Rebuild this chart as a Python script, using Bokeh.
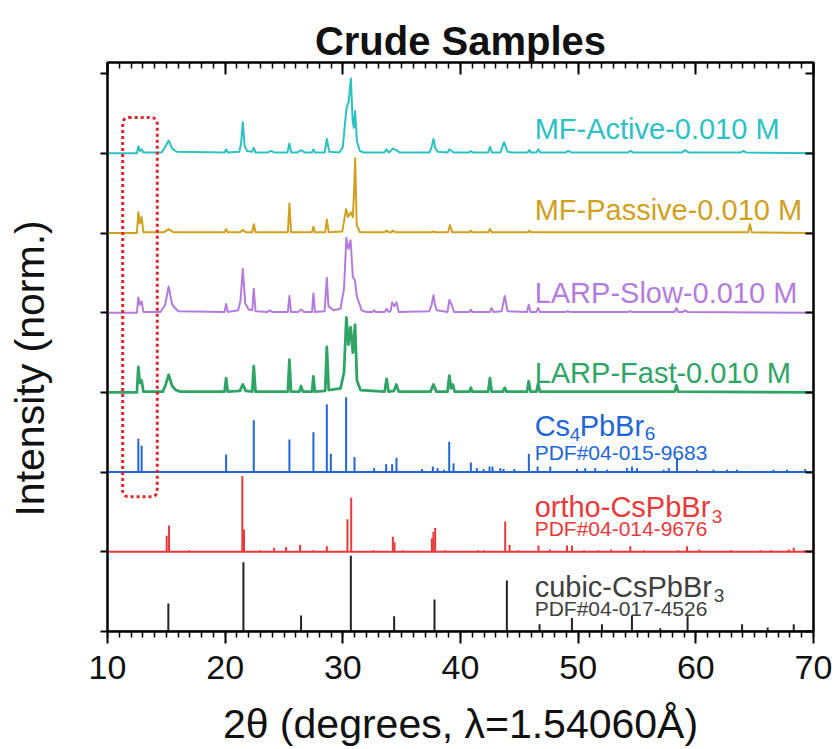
import numpy as np
from bokeh.plotting import figure
from bokeh.layouts import row
from bokeh.models import Range1d, LinearAxis, SingleIntervalTicker, CustomJSTickFormatter
from bokeh.core.properties import value
from bokeh.embed import file_html
from bokeh.resources import INLINE

FONT = "Liberation Sans"

# ---------------- data ----------------
# measured patterns: (2theta, normalised intensity) vertices
mf_active = [(10, 0), (12.5, 0), (12.62, 0.09), (12.75, 0.03), (12.9, 0.05), (13.05, 0.01), (14.6, 0.01),
             (14.9, 0.08), (15.2, 0.16), (15.5, 0.06), (15.9, 0.02), (19.95, 0.01), (20.08, 0.05), (20.22, 0.01),
             (21.2, 0.02), (21.35, 0.12), (21.5, 0.39), (21.65, 0.1), (21.85, 0.03), (22.3, 0.02), (22.43, 0.07),
             (22.6, 0.01), (23.6, 0.01), (23.9, 0.03), (24.2, 0.01), (25.3, 0.01), (25.46, 0.125), (25.62, 0.01),
             (26.1, 0.01), (26.45, 0.04), (26.8, 0.01), (27.38, 0.01), (27.5, 0.05), (27.65, 0.01), (28.45, 0.01),
             (28.64, 0.18), (28.85, 0.02), (29.7, 0.01), (30.0, 0.08), (30.2, 0.4), (30.33, 0.58), (30.5, 0.65),
             (30.68, 0.94), (30.84, 0.4), (30.94, 0.32), (31.04, 0.53), (31.2, 0.15), (31.45, 0.03), (31.8, 0.01),
             (33.5, 0.01), (33.72, 0.05), (33.9, 0.01), (34.05, 0.03), (34.25, 0.06), (34.55, 0.04), (34.85, 0.01),
             (37.35, 0.01), (37.55, 0.08), (37.7, 0.18), (37.85, 0.07), (38.05, 0.02), (38.9, 0.01), (39.05, 0.05),
             (39.25, 0.03), (39.45, 0.01), (40.7, 0.01), (40.88, 0.03), (41.05, 0.01), (42.35, 0.01), (42.5, 0.08),
             (42.68, 0.01), (43.4, 0.01), (43.7, 0.14), (44.0, 0.02), (44.4, 0.01), (45.7, 0.01), (45.85, 0.04),
             (46.0, 0.01), (46.45, 0.01), (46.6, 0.05), (46.8, 0.01), (48.9, 0.01), (49.15, 0.03), (49.45, 0.01),
             (54.2, 0.01), (54.45, 0.03), (54.7, 0.01), (58.8, 0.01), (59.1, 0.04), (59.4, 0.01), (63.8, 0.01),
             (64.05, 0.03), (64.3, 0.01), (70, 0)]

mf_passive = [(10, 0), (12.5, 0), (12.62, 0.26), (12.75, 0.12), (12.9, 0.2), (13.05, 0.01), (14.8, 0.01),
              (15.2, 0.05), (15.6, 0.01), (19.95, 0.01), (20.08, 0.05), (20.22, 0.01), (21.25, 0.01), (21.5, 0.04),
              (21.75, 0.01), (22.3, 0.01), (22.43, 0.11), (22.58, 0.01), (25.33, 0.01), (25.46, 0.37), (25.6, 0.01),
              (27.38, 0.01), (27.5, 0.08), (27.63, 0.01), (28.5, 0.01), (28.64, 0.17), (28.8, 0.01), (29.95, 0.02),
              (30.28, 0.3), (30.45, 0.2), (30.68, 0.26), (30.85, 0.2), (30.95, 0.5), (31.05, 0.94), (31.18, 0.1),
              (31.45, 0.01), (33.55, 0.01), (33.72, 0.03), (33.9, 0.01), (34.1, 0.01), (34.25, 0.03), (34.45, 0.01),
              (37.55, 0.01), (37.7, 0.02), (37.85, 0.01), (38.95, 0.01), (39.1, 0.1), (39.3, 0.01), (40.75, 0.01),
              (40.88, 0.03), (41.0, 0.01), (42.35, 0.01), (42.5, 0.05), (42.65, 0.01), (45.75, 0.01), (45.85, 0.03),
              (46.0, 0.01), (64.45, 0.01), (64.6, 0.11), (64.75, 0.01), (70, 0)]

larp_slow = [(10, 0), (12.5, 0), (12.62, 0.19), (12.75, 0.1), (12.9, 0.14), (13.05, 0.01), (14.5, 0.01),
             (14.9, 0.1), (15.2, 0.33), (15.5, 0.1), (16.0, 0.02), (19.95, 0.01), (20.08, 0.11), (20.22, 0.01),
             (21.1, 0.03), (21.3, 0.15), (21.5, 0.55), (21.7, 0.12), (22.0, 0.04), (22.3, 0.03), (22.43, 0.3),
             (22.58, 0.02), (23.6, 0.01), (23.8, 0.03), (24.0, 0.01), (25.33, 0.01), (25.46, 0.21), (25.6, 0.01),
             (26.2, 0.01), (26.45, 0.04), (26.7, 0.01), (27.38, 0.01), (27.5, 0.24), (27.63, 0.01), (28.45, 0.02),
             (28.64, 0.44), (28.78, 0.08), (28.98, 0.06), (29.2, 0.03), (29.8, 0.05), (30.1, 0.3), (30.3, 0.94),
             (30.48, 0.8), (30.66, 0.91), (30.85, 0.45), (31.02, 0.41), (31.2, 0.2), (31.6, 0.03), (32.0, 0.01),
             (32.5, 0.01), (32.66, 0.03), (32.8, 0.01), (33.55, 0.01), (33.72, 0.05), (33.9, 0.01), (34.05, 0.02),
             (34.2, 0.13), (34.38, 0.08), (34.56, 0.13), (34.75, 0.01), (37.35, 0.02), (37.55, 0.1), (37.7, 0.22),
             (37.85, 0.09), (38.0, 0.03), (38.9, 0.01), (39.05, 0.16), (39.25, 0.1), (39.45, 0.01), (40.75, 0.01),
             (40.88, 0.04), (41.0, 0.01), (42.5, 0.01), (42.64, 0.06), (42.8, 0.01), (43.5, 0.02), (43.76, 0.21),
             (44.0, 0.02), (45.65, 0.01), (45.8, 0.1), (45.95, 0.01), (46.45, 0.01), (46.6, 0.06), (46.75, 0.01),
             (48.9, 0.01), (49.1, 0.02), (49.3, 0.01), (54.2, 0.01), (54.4, 0.02), (54.6, 0.01), (58.2, 0.01),
             (58.35, 0.06), (58.5, 0.01), (58.9, 0.01), (59.1, 0.03), (59.3, 0.01), (70, 0)]

larp_fast = [(10, 0), (12.5, 0), (12.62, 0.32), (12.75, 0.12), (12.9, 0.15), (13.05, 0.01), (14.7, 0.01),
             (14.95, 0.1), (15.2, 0.22), (15.5, 0.08), (15.8, 0.03), (16.2, 0.01), (19.95, 0.01), (20.08, 0.18),
             (20.22, 0.01), (21.25, 0.02), (21.5, 0.1), (21.75, 0.02), (22.3, 0.01), (22.43, 0.33), (22.58, 0.01),
             (25.33, 0.01), (25.46, 0.41), (25.6, 0.01), (26.3, 0.01), (26.45, 0.08), (26.6, 0.01), (27.38, 0.01),
             (27.5, 0.2), (27.63, 0.01), (28.5, 0.02), (28.64, 0.57), (28.8, 0.03), (29.8, 0.05), (30.1, 0.25),
             (30.3, 0.94), (30.48, 0.6), (30.66, 0.82), (30.85, 0.5), (31.04, 0.85), (31.2, 0.15), (31.5, 0.03),
             (33.55, 0.01), (33.72, 0.17), (33.88, 0.01), (34.35, 0.02), (34.55, 0.1), (34.75, 0.01), (37.45, 0.01),
             (37.7, 0.1), (37.95, 0.01), (38.9, 0.01), (39.05, 0.21), (39.2, 0.05), (39.35, 0.1), (39.5, 0.01),
             (40.75, 0.01), (40.88, 0.06), (41.0, 0.01), (42.35, 0.01), (42.5, 0.18), (42.65, 0.01), (43.6, 0.01),
             (43.76, 0.06), (43.9, 0.01), (45.65, 0.01), (45.8, 0.14), (45.95, 0.01), (46.45, 0.01), (46.6, 0.11),
             (46.75, 0.01), (58.2, 0.01), (58.35, 0.09), (58.5, 0.01), (70, 0)]

# reference (PDF card) stick patterns: positions and heights
cs4pbbr6_pos = [12.62, 12.9, 20.08, 22.43, 25.46, 27.5, 28.64, 28.98, 30.28, 30.99, 32.66, 33.68, 34.19, 34.56,
                36.72, 37.65, 38.05, 38.6, 39.04, 39.41, 40.88, 41.39, 41.96, 42.47, 42.72, 43.38, 43.66, 44.57,
                45.81, 46.55, 47.63, 49.9, 50.6, 51.45, 52.45, 54.15, 54.57, 55.0, 57.26, 57.7, 58.4, 60.1, 61.5,
                62.65, 63.5, 66.6, 67.75, 69.3]
cs4pbbr6_h = [0.42, 0.33, 0.22, 0.65, 0.41, 0.5, 0.85, 0.23, 0.94, 0.19, 0.05, 0.1, 0.1, 0.18,
              0.04, 0.07, 0.05, 0.03, 0.38, 0.11, 0.12, 0.05, 0.04, 0.07, 0.07, 0.05, 0.04, 0.04,
              0.23, 0.07, 0.07, 0.04, 0.05, 0.05, 0.03, 0.05, 0.07, 0.05, 0.03, 0.05, 0.18, 0.03, 0.03,
              0.03, 0.03, 0.03, 0.03, 0.04]

ortho_pos = [15.03, 15.23, 16.96, 21.46, 21.6, 22.97, 24.16, 25.18, 26.37, 27.5, 28.64, 30.39, 30.71, 32.6,
             34.25, 34.39, 35.1, 37.57, 37.7, 37.85, 38.7, 41.5, 42.0, 43.8, 44.17, 44.9, 46.63, 47.6, 49.05,
             49.47, 50.5, 51.7, 52.8, 54.43, 55.6, 58.5, 59.25, 60.3, 63.0, 65.5, 66.4, 67.9, 68.32, 69.2]
ortho_h = [0.2, 0.33, 0.02, 0.95, 0.28, 0.02, 0.05, 0.06, 0.09, 0.02, 0.07, 0.41, 0.68, 0.02,
           0.19, 0.12, 0.02, 0.17, 0.25, 0.3, 0.02, 0.02, 0.02, 0.38, 0.09, 0.02, 0.08, 0.03, 0.08,
           0.08, 0.02, 0.02, 0.03, 0.07, 0.02, 0.02, 0.07, 0.03, 0.02, 0.02, 0.02, 0.03, 0.05, 0.02]

cubic_pos = [15.17, 21.55, 26.45, 30.68, 34.36, 37.79, 43.94, 46.72, 49.47, 52.02, 54.57, 56.98, 59.3,
             63.93, 66.1, 68.32]
cubic_h = [0.35, 0.87, 0.2, 0.95, 0.19, 0.4, 0.64, 0.09, 0.17, 0.09, 0.2, 0.04, 0.19, 0.09, 0.05, 0.09]

# stacking offsets (top to bottom)
offsets = {"mf_active": 6, "mf_passive": 5, "larp_slow": 4, "larp_fast": 3, "cs4": 2, "ortho": 1, "cubic": 0}

colors = {"mf_active": "#2CC1C4", "mf_passive": "#D0A01E", "larp_slow": "#B47BDF", "larp_fast": "#2FA465",
          "cs4": "#2166D6", "ortho": "#E8393B", "cubic": "#222222"}

x_ticks_interval = 10
# highlighted region (dotted box)
box_left, box_right, box_bottom, box_top = 11.29, 14.23, 1.69, 6.45

# labels
label_x = 46.3
main_labels = ["MF-Active-0.010 M", "MF-Passive-0.010 M", "LARP-Slow-0.010 M", "LARP-Fast-0.010 M"]
main_label_y = [6.30, 5.29, 4.25, 3.25]
main_label_col = [colors["mf_active"], colors["mf_passive"], colors["larp_slow"], colors["larp_fast"]]

title_text = "Crude Samples"
x_title = "2θ (degrees, λ=1.54060Å)"
y_title = "Intensity (norm.)"

# ---------------- layout constants (pixels) ----------------
W, H = 835, 749
STRIP_W = 60
FRAME_L, FRAME_R, FRAME_T, FRAME_B = 107, 813, 62, 633

# ---------------- y-axis title panel (narrow strip on the left, pixel coordinates) ----------------
# its frame is aligned with the main frame (FRAME_T..FRAME_B); data y = H - page y
ylab = figure(width=STRIP_W, height=H, output_backend="svg", toolbar_location=None,
              x_range=Range1d(0, STRIP_W), y_range=Range1d(H - FRAME_B, H - FRAME_T), min_border=0,
              x_axis_location=None, y_axis_location=None)
ylab.grid.visible = False
ylab.outline_line_color = None
ylab.background_fill_color = "white"
ylab.border_fill_color = "white"
ylab.text(x=[29], y=[H - 369], text=[y_title], angle=np.pi / 2, text_align="center",
          text_baseline="middle", text_font=value(FONT), text_font_size="41px", text_color="#111111")

# ---------------- main figure ----------------
p = figure(width=W - STRIP_W, height=H, output_backend="svg", toolbar_location=None,
           x_range=Range1d(10, 70), y_range=Range1d(0, 7.14),
           min_border_left=FRAME_L - STRIP_W, min_border_right=W - FRAME_R,
           min_border_top=FRAME_T, min_border_bottom=H - FRAME_B,
           title=title_text)
p.background_fill_color = "white"
p.border_fill_color = "white"
p.grid.visible = False
p.outline_line_color = "black"
p.outline_line_width = 2

p.title.align = "center"
p.title.text_font = FONT
p.title.text_font_size = "40px"
p.title.text_font_style = "bold"
p.title.text_color = "#111111"
p.title.standoff = 0

blank = CustomJSTickFormatter(code="return ''")

xa = p.xaxis[0]
xa.ticker = SingleIntervalTicker(interval=x_ticks_interval, num_minor_ticks=10)
xa.major_tick_out = 12
xa.major_tick_in = 0
xa.minor_tick_out = 6
xa.minor_tick_in = 0
xa.axis_line_width = 2
xa.major_tick_line_width = 2
xa.minor_tick_line_width = 1.5
xa.major_label_text_font = FONT
xa.major_label_text_font_size = "34px"
xa.major_label_text_color = "#111111"
xa.major_label_standoff = 12
xa.axis_label = x_title
xa.axis_label_text_font = FONT
xa.axis_label_text_font_size = "41px"
xa.axis_label_text_font_style = "normal"
xa.axis_label_text_color = "#111111"
xa.axis_label_standoff = 19

top = LinearAxis(ticker=SingleIntervalTicker(interval=x_ticks_interval, num_minor_ticks=10),
                 major_tick_in=12, major_tick_out=0, minor_tick_in=6, minor_tick_out=0,
                 axis_line_width=2, major_tick_line_width=2, minor_tick_line_width=1.5,
                 formatter=blank, major_label_text_font_size="0px", major_label_standoff=0)
p.add_layout(top, "above")

ya = p.yaxis[0]
ya.ticker = SingleIntervalTicker(interval=1, num_minor_ticks=0)
ya.formatter = blank
ya.major_label_text_font_size = "0px"
ya.major_tick_out = 7
ya.major_tick_in = 0
ya.minor_tick_out = 0
ya.minor_tick_in = 0
ya.axis_line_width = 2
ya.major_tick_line_width = 2
ya.major_label_standoff = 0

right = LinearAxis(ticker=SingleIntervalTicker(interval=1, num_minor_ticks=0),
                   major_tick_in=8, major_tick_out=0, minor_tick_in=0, minor_tick_out=0,
                   axis_line_width=2, major_tick_line_width=2,
                   formatter=blank, major_label_text_font_size="0px", major_label_standoff=0)
p.add_layout(right, "right")

# ---------------- measured patterns ----------------
for key, data, lw in [("mf_active", mf_active, 2), ("mf_passive", mf_passive, 2),
                      ("larp_slow", larp_slow, 2), ("larp_fast", larp_fast, 2.8)]:
    xs = np.array([d[0] for d in data], dtype=float)
    ys = np.array([d[1] for d in data], dtype=float) + offsets[key]
    p.line(xs, ys, line_color=colors[key], line_width=lw, line_join="round")

# ---------------- reference stick patterns ----------------
x0, x1 = p.x_range.start, p.x_range.end
for key, pos, h in [("cs4", cs4pbbr6_pos, cs4pbbr6_h), ("ortho", ortho_pos, ortho_h), ("cubic", cubic_pos, cubic_h)]:
    base = offsets[key]
    pos = np.array(pos, dtype=float)
    h = np.array(h, dtype=float)
    p.segment(x0=pos, y0=np.full_like(pos, base), x1=pos, y1=base + h,
              line_color=colors[key], line_width=2)
    p.segment(x0=[x0], y0=[base], x1=[x1], y1=[base], line_color=colors[key], line_width=2)

# dotted highlight box
p.quad(left=[box_left], right=[box_right], bottom=[box_bottom], top=[box_top],
       fill_alpha=0, line_color="#E0262B", line_width=3, line_dash="3 3", border_radius=6)

# ---------------- labels ----------------
p.text(x=[label_x] * len(main_labels), y=main_label_y, text=main_labels, text_color=main_label_col,
       text_font=value(FONT), text_font_size="29px", text_baseline="alphabetic", text_align="left")

# Cs4PbBr6
p.text(x=[label_x], y=[2.575], text=["Cs"], text_color=colors["cs4"], text_font=value(FONT),
       text_font_size="29px", text_baseline="alphabetic")
p.text(x=[label_x], y=[2.475], text=["4"], text_color=colors["cs4"], text_font=value(FONT),
       text_font_size="19px", text_baseline="alphabetic", x_offset=35)
p.text(x=[label_x], y=[2.575], text=["PbBr"], text_color=colors["cs4"], text_font=value(FONT),
       text_font_size="29px", text_baseline="alphabetic", x_offset=45)
p.text(x=[label_x], y=[2.49], text=["6"], text_color=colors["cs4"], text_font=value(FONT),
       text_font_size="19px", text_baseline="alphabetic", x_offset=110)
p.text(x=[label_x], y=[2.25], text=["PDF#04-015-9683"], text_color=colors["cs4"], text_font=value(FONT),
       text_font_size="21px", text_baseline="alphabetic")

# ortho-CsPbBr3
p.text(x=[label_x], y=[1.56], text=["ortho-CsPbBr"], text_color=colors["ortho"], text_font=value(FONT),
       text_font_size="29px", text_baseline="alphabetic")
p.text(x=[label_x], y=[1.44], text=["3"], text_color=colors["ortho"], text_font=value(FONT),
       text_font_size="19px", text_baseline="alphabetic", x_offset=177)
p.text(x=[label_x], y=[1.29], text=["PDF#04-014-9676"], text_color=colors["ortho"], text_font=value(FONT),
       text_font_size="21px", text_baseline="alphabetic")

# cubic-CsPbBr3
gray = "#404040"
p.text(x=[label_x], y=[0.56], text=["cubic-CsPbBr"], text_color=gray, text_font=value(FONT),
       text_font_size="29px", text_baseline="alphabetic")
p.text(x=[label_x], y=[0.45], text=["3"], text_color=gray, text_font=value(FONT),
       text_font_size="19px", text_baseline="alphabetic", x_offset=179)
p.text(x=[label_x], y=[0.29], text=["PDF#04-017-4526"], text_color=gray, text_font=value(FONT),
       text_font_size="21px", text_baseline="alphabetic")

layout = row(ylab, p)
open("out.html", "w").write(file_html(layout, INLINE))
